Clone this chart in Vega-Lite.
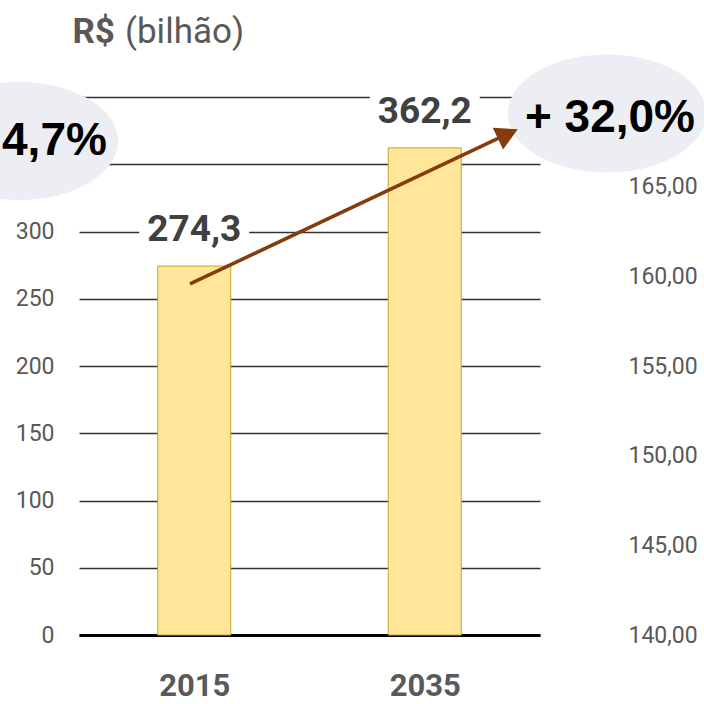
{
  "$schema": "https://vega.github.io/schema/vega-lite/v6.json",
  "width": 461,
  "height": 538,
  "autosize": "none",
  "padding": {"left": 79, "top": 97, "right": 164, "bottom": 69},
  "background": "white",
  "config": {"view": {"stroke": null}, "font": "Roboto"},
  "datasets": {
    "bars": [
      {"year": 2015, "value": 274.3, "label": "274,3"},
      {"year": 2035, "value": 362.2, "label": "362,2"}
    ],
    "arrow": [
      {"year": 2014.63, "value": 261.0},
      {"year": 2041.96, "value": 371.7}
    ],
    "arrowTip": [{"year": 2043.07, "value": 376.0}],
    "bubbles": [
      {"year": 2050.81, "value": 387.7},
      {"year": 1999.79, "value": 367.3}
    ],
    "bubbleText": [
      {"year": 2051.07, "value": 374.3, "label": "+ 32,0%"},
      {"year": 2002.87, "value": 356.7, "label": "4,7%"}
    ],
    "unitBold": [{"year": 2008.12, "value": 440.1, "label": "R$"}],
    "unitRegular": [{"year": 2008.99, "value": 440.1, "label": "(bilhão)"}],
    "secondary": [{"v": 140}, {"v": 170}]
  },
  "resolve": {"scale": {"y": "independent"}, "axis": {"y": "independent"}},
  "layer": [
    {
      "layer": [
        {
          "data": {"name": "bars"},
          "mark": {"type": "bar", "size": 73, "fill": "#FFE699", "stroke": "#C9A227", "strokeWidth": 1},
          "encoding": {
            "x": {
              "field": "year", "type": "quantitative",
              "scale": {"domain": [2005, 2045], "nice": false, "zero": false, "padding": 0},
              "axis": {
                "values": [2015, 2035], "format": "d", "grid": false, "ticks": false,
                "domain": true, "domainColor": "#000000", "domainWidth": 3,
                "labelFontSize": 31, "labelFontWeight": "bold", "labelColor": "#595959",
                "labelFont": "Roboto", "labelPadding": 36, "title": null, "zindex": 0
              }
            },
            "y": {
              "field": "value", "type": "quantitative",
              "scale": {"domain": [0, 400], "nice": false, "padding": 0},
              "axis": {
                "values": [0, 50, 100, 150, 200, 250, 300, 350, 400],
                "labelExpr": "datum.value > 300 ? '' : datum.label",
                "grid": true, "gridColor": "#333333", "gridWidth": 1.3,
                "domain": false, "ticks": false, "labelPadding": 25,
                "labelFontSize": 23, "labelColor": "#595959", "labelFont": "Roboto",
                "title": null, "zindex": 0
              }
            }
          }
        },
        {
          "data": {"name": "bars"},
          "mark": {"type": "point", "shape": "M-1,-1.05H1V-0.35H-1Z", "size": 12100, "filled": true, "fill": "white", "opacity": 1, "strokeWidth": 0},
          "encoding": {
            "x": {"field": "year", "type": "quantitative"},
            "y": {"field": "value", "type": "quantitative"}
          }
        },
        {
          "data": {"name": "bars"},
          "mark": {"type": "text", "dy": -25, "baseline": "alphabetic", "align": "center", "fontSize": 37, "fontWeight": "bold", "fill": "#404040", "font": "Roboto"},
          "encoding": {
            "x": {"field": "year", "type": "quantitative"},
            "y": {"field": "value", "type": "quantitative"},
            "text": {"field": "label"}
          }
        },
        {
          "data": {"name": "bubbles"},
          "mark": {"type": "point", "shape": "M-1,0C-1,-0.331,-0.5523,-0.596,0,-0.596C0.5523,-0.596,1,-0.331,1,0C1,0.331,0.5523,0.596,0,0.596C-0.5523,0.596,-1,0.331,-1,0Z", "size": 39204, "filled": true, "fill": "#EDEEF3", "opacity": 1, "strokeWidth": 0},
          "encoding": {
            "x": {"field": "year", "type": "quantitative"},
            "y": {"field": "value", "type": "quantitative"}
          }
        },
        {
          "data": {"name": "bubbleText"},
          "mark": {"type": "text", "baseline": "alphabetic", "align": "center", "fontSize": 46, "fontWeight": "bold", "fill": "#000000", "font": "Liberation Sans"},
          "encoding": {
            "x": {"field": "year", "type": "quantitative"},
            "y": {"field": "value", "type": "quantitative"},
            "text": {"field": "label"}
          }
        },
        {
          "data": {"name": "arrow"},
          "mark": {"type": "line", "stroke": "#843C0C", "strokeWidth": 3.5},
          "encoding": {
            "x": {"field": "year", "type": "quantitative"},
            "y": {"field": "value", "type": "quantitative"}
          }
        },
        {
          "data": {"name": "arrowTip"},
          "mark": {"type": "point", "shape": "M0,0L-1.83,-1L-1.83,1Z", "size": 576, "angle": -25.3, "filled": true, "fill": "#843C0C", "opacity": 1, "strokeWidth": 0},
          "encoding": {
            "x": {"field": "year", "type": "quantitative"},
            "y": {"field": "value", "type": "quantitative"}
          }
        },
        {
          "data": {"name": "unitBold"},
          "mark": {"type": "text", "baseline": "alphabetic", "align": "right", "fontSize": 35, "fontWeight": "bold", "fill": "#595959", "font": "Roboto"},
          "encoding": {
            "x": {"field": "year", "type": "quantitative"},
            "y": {"field": "value", "type": "quantitative"},
            "text": {"field": "label"}
          }
        },
        {
          "data": {"name": "unitRegular"},
          "mark": {"type": "text", "baseline": "alphabetic", "align": "left", "fontSize": 35, "fill": "#595959", "font": "Roboto"},
          "encoding": {
            "x": {"field": "year", "type": "quantitative"},
            "y": {"field": "value", "type": "quantitative"},
            "text": {"field": "label"}
          }
        }
      ]
    },
    {
      "data": {"name": "secondary"},
      "mark": {"type": "rule", "opacity": 0},
      "encoding": {
        "y": {
          "field": "v", "type": "quantitative",
          "scale": {"domain": [140, 170], "nice": false, "zero": false},
          "axis": {
            "orient": "right", "values": [140, 145, 150, 155, 160, 165],
            "labelExpr": "replace(format(datum.value, '.2f'), '.', ',')",
            "grid": false, "domain": false, "ticks": false, "labelPadding": 88,
            "labelFontSize": 23, "labelColor": "#595959", "labelFont": "Roboto",
            "title": null, "zindex": 0
          }
        }
      }
    }
  ]
}
